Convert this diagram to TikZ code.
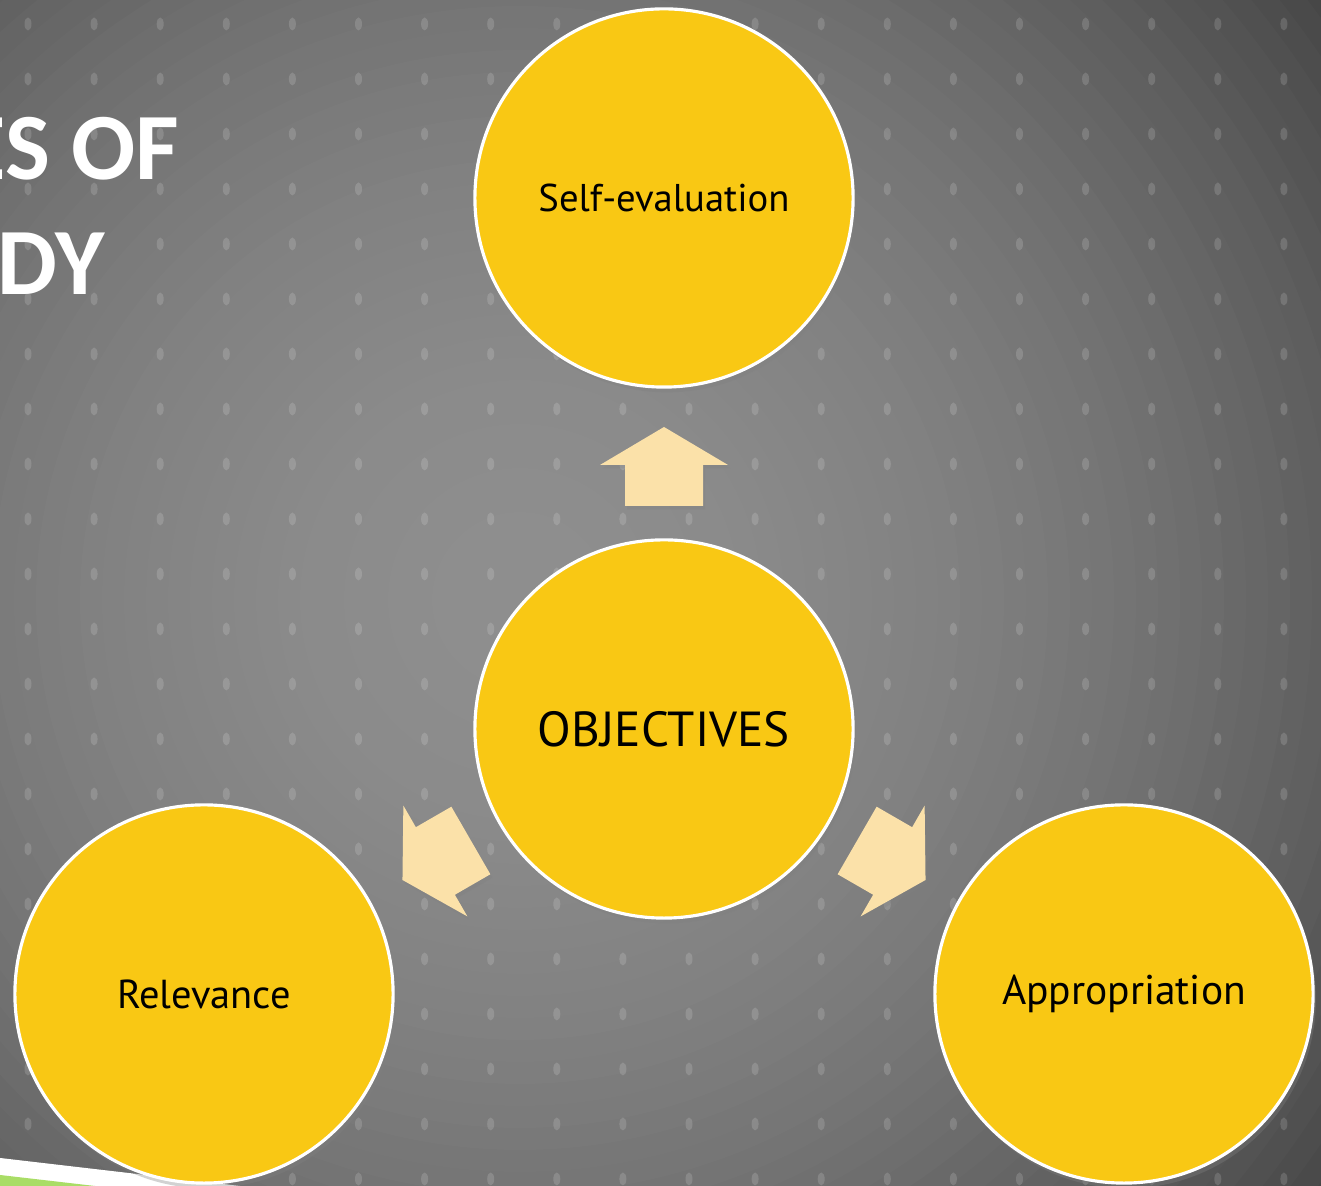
\documentclass[tikz,border=0pt]{standalone}
\usepackage{fontspec}
\setmainfont{PT Sans}
\newfontfamily\titlefont{Carlito}
\usetikzlibrary{shadows}
\definecolor{bglight}{HTML}{8E8E8E}
\definecolor{bgdark}{HTML}{404040}
\definecolor{discfill}{HTML}{F9C814}
\definecolor{arrowfill}{HTML}{FBE1A9}
\definecolor{stripegreen}{HTML}{A9DD66}

\begin{document}
\begin{tikzpicture}[x=0.01cm,y=0.01cm,
    disc/.style={circle,fill=discfill,draw=white,line width=0.9pt,minimum size=3.78cm,inner sep=0pt,
      font=\fontsize{11.8}{14}\selectfont,drop shadow={shadow xshift=0.8pt,shadow yshift=-1.5pt,opacity=0.35}},
    blockarrow/.style={fill=arrowfill,drop shadow={shadow xshift=0.6pt,shadow yshift=-1pt,opacity=0.3}},
    dot/.style={white,opacity=0.15}]
  \useasboundingbox (0,0) rectangle (1321,1186);
  \clip (0,0) rectangle (1321,1186);
  % background glow and dot grid
  \fill[bgdark] (0,0) rectangle (1321,1186);
  \coordinate (glow) at (520,586);
  \foreach \k in {50,...,1}{
    \pgfmathsetmacro\p{max(0,100*(1-(\k*22/1060)^2))}
    \fill[bglight!\p!bgdark] (glow) circle (\k*22);
  }
  \foreach \i in {0,...,19}
    \foreach \j in {0,...,21}
      \fill[dot] (28+66.1*\i,1162-55*\j) ellipse (3.5 and 6.5);
  \fill[white] (0,28) -- (240,0) -- (0,0) -- cycle;
  \fill[stripegreen] (0,11) -- (95,0) -- (0,0) -- cycle;
  % title (cut at the left edge)
  \node[anchor=base east,inner sep=0pt,white,font=\titlefont\bfseries\fontsize{27}{30}\selectfont] (title1) at (180,1006) {ES OF};
  \node[anchor=base west,inner sep=0pt,white,font=\titlefont\bfseries\fontsize{27}{30}\selectfont] (title2) at (-3,891) {DY};
  % discs
  \node[disc,font=\fontsize{11}{14}\selectfont] (selfeval) at (664,988) {Self-evaluation};
  \node[disc,font=\fontsize{14}{17}\selectfont] (obj) at (664,457) {OBJECTIVES};
  \node[disc,font=\fontsize{11.5}{14}\selectfont] (relev) at (204,192) {Relevance};
  \node[disc] (approp) at (1124,192) {Appropriation};
  % block arrows out of the centre
  \foreach \r in {0,120,-120}{
    \begin{scope}[shift={(obj.center)},rotate=\r]
      \fill[blockarrow] (0,302) -- (64,264) -- (39,264) -- (39,223) -- (-39,223) -- (-39,264) -- (-64,264) -- cycle;
    \end{scope}
  }
\end{tikzpicture}
\end{document}
